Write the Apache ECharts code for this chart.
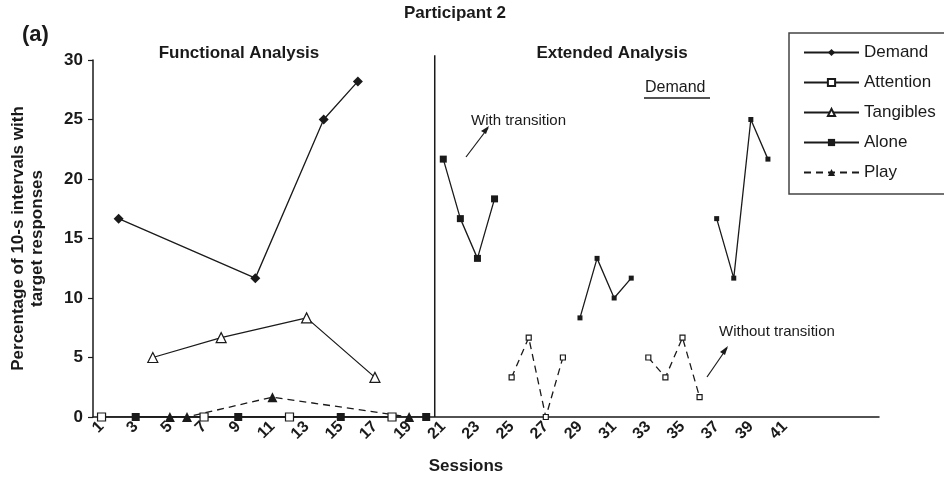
<!DOCTYPE html>
<html lang="en">
<head>
<meta charset="UTF-8">
<title>Participant 2</title>
<script src="https://cdn.jsdelivr.net/npm/echarts@6/dist/echarts.min.js"></script>
<style>
    html, body { margin: 0; padding: 0; background: #fff; }
    #graph { width: 944px; height: 480px; }
</style>
</head>
<body>
<div id="graph"></div>
<script>
// sessions on the x axis (46 slots, labels on odd ones up to 41)
var sessions = [1,2,3,4,5,6,7,8,9,10,11,12,13,14,15,16,17,18,19,20,21,22,23,24,25,26,27,28,29,30,31,32,33,34,35,36,37,38,39,40,41,42,43,44,45,46];
var sessionLabels = ['1','','3','','5','','7','','9','','11','','13','','15','','17','','19','','21','','23','','25','','27','','29','','31','','33','','35','','37','','39','','41','','','','',''];
var yTicks = [0, 5, 10, 15, 20, 25, 30];

// functional analysis
var demandSessions = [2, 10, 14, 16];
var demandValues = [16.67, 11.67, 25, 28.2];
var attentionSessions = [1, 7, 12, 18];
var attentionValues = [0, 0, 0, 0];
var tangiblesSessions = [4, 8, 13, 17];
var tangiblesValues = [5, 6.67, 8.33, 3.33];
var aloneSessions = [3, 9, 15, 20];
var aloneValues = [0, 0, 0, 0];
var playSessions = [5, 6, 11, 19];
var playValues = [0, 0, 1.67, 0];

// extended analysis (demand)
var withSessions = [21, 22, 23, 24, 29, 30, 31, 32, 37, 38, 39, 40];
var withValues = [21.67, 16.67, 13.33, 18.33, 8.33, 13.33, 10, 11.67, 16.67, 11.67, 25, 21.67];
var withoutSessions = [25, 26, 27, 28, 33, 34, 35, 36];
var withoutValues = [3.33, 6.67, 0, 5, 5, 3.33, 6.67, 1.67];

var phaseChange = 20; // boundary after session 20

function place(s, v) {
    var out = [];
    for (var i = 0; i < sessions.length; i++) out.push(null);
    for (var j = 0; j < s.length; j++) out[sessions.indexOf(s[j])] = v[j];
    return out;
}

var font = 'Liberation Sans, Arial, sans-serif';
var ink = '#1a1a1a';
var myChart = echarts.init(document.getElementById('graph'));

var open = { color: '#fff', borderColor: ink, borderWidth: 1.2 };
var solid = { color: ink };

option = {
    animation: false,
    backgroundColor: '#fff',
    textStyle: { fontFamily: font, color: ink },
    grid: { left: 93, right: 65, top: 60, bottom: 63 },
    legend: {
        orient: 'vertical',
        left: 789,
        top: 33,
        padding: [11, 80, 13, 14],
        borderColor: '#444',
        borderWidth: 1.5,
        itemWidth: 55,
        itemHeight: 9,
        itemGap: 13,
        textStyle: { fontFamily: font, fontSize: 17, color: ink },
        data: ['Demand', 'Attention', 'Tangibles', 'Alone', 'Play']
    },
    xAxis: [{
        type: 'category',
        data: sessions.map(String),
        boundaryGap: true,
        axisLine: { lineStyle: { color: ink, width: 1.5 } },
        axisTick: { interval: 0, length: 5, lineStyle: { color: ink, width: 1.2 } },
        axisLabel: {
            interval: 0, rotate: 45, margin: 7,
            fontFamily: font, fontSize: 16, fontWeight: 'bold', color: ink,
            formatter: function (v, i) { return sessionLabels[i]; }
        },
        splitLine: { show: false }
    }, {
        type: 'value', min: 0, max: sessions.length, show: false
    }],
    yAxis: {
        type: 'value',
        min: yTicks[0], max: yTicks[yTicks.length - 1], interval: 5,
        name: 'Percentage of 10-s intervals with\ntarget responses',
        nameLocation: 'middle',
        nameGap: 46,
        nameTextStyle: { fontFamily: font, fontSize: 17, fontWeight: 'bold', color: ink, lineHeight: 19 },
        axisLine: { show: true, lineStyle: { color: ink, width: 1.5 } },
        axisTick: { show: true, length: 5, lineStyle: { color: ink, width: 1.2 } },
        axisLabel: { margin: 10, fontFamily: font, fontSize: 17, fontWeight: 'bold', color: ink },
        splitLine: { show: false }
    },
    series: [
        {
            name: 'Demand', type: 'line', connectNulls: true,
            data: place(demandSessions, demandValues),
            symbol: 'diamond', symbolSize: 10, itemStyle: solid,
            lineStyle: { color: ink, width: 1.3 }
        },
        {
            name: 'Attention', type: 'line', connectNulls: true,
            data: place(attentionSessions, attentionValues),
            symbol: 'rect', symbolSize: 8, itemStyle: open,
            lineStyle: { color: ink, width: 1.3 }
        },
        {
            name: 'Tangibles', type: 'line', connectNulls: true,
            data: place(tangiblesSessions, tangiblesValues),
            symbol: 'triangle', symbolSize: 10, itemStyle: open,
            lineStyle: { color: ink, width: 1.3 }
        },
        {
            name: 'Alone', type: 'line', connectNulls: true,
            data: place(aloneSessions, aloneValues),
            symbol: 'rect', symbolSize: 8, itemStyle: solid,
            lineStyle: { color: ink, width: 1.3 }
        },
        {
            name: 'Play', type: 'line', connectNulls: true,
            data: place(playSessions, playValues),
            symbol: 'triangle', symbolSize: 10, itemStyle: solid,
            lineStyle: { color: ink, width: 1.3, type: [7, 5] }
        },
        {
            name: 'With transition', type: 'line', connectNulls: false,
            data: place(withSessions, withValues),
            symbol: 'rect',
            symbolSize: function (v, p) { return p.dataIndex < 24 ? 7 : 5; },
            itemStyle: solid,
            lineStyle: { color: ink, width: 1.3 }
        },
        {
            name: 'Without transition', type: 'line', connectNulls: false,
            data: place(withoutSessions, withoutValues),
            symbol: 'rect', symbolSize: 5, itemStyle: open,
            lineStyle: { color: ink, width: 1.3, type: [7, 5] }
        },
        {
            name: 'phase', type: 'line', xAxisIndex: 1, clip: false,
            data: [[phaseChange, 0], [phaseChange, 30.4]],
            symbol: 'none', silent: true,
            lineStyle: { color: ink, width: 1.5 }
        }
    ],
    graphic: [
        { type: 'text', style: { text: 'Participant 2', x: 455, y: 13, textAlign: 'center', textVerticalAlign: 'middle', font: 'bold 17px ' + font, fill: ink } },
        { type: 'text', style: { text: '(a)', x: 22, y: 35, textAlign: 'left', textVerticalAlign: 'middle', font: 'bold 22px ' + font, fill: ink } },
        { type: 'text', style: { text: 'Functional Analysis', x: 239, y: 53, textAlign: 'center', textVerticalAlign: 'middle', font: 'bold 17px ' + font, fill: ink } },
        { type: 'text', style: { text: 'Extended Analysis', x: 612, y: 53, textAlign: 'center', textVerticalAlign: 'middle', font: 'bold 17px ' + font, fill: ink } },
        { type: 'text', style: { text: 'Demand', x: 645, y: 88, textAlign: 'left', textVerticalAlign: 'middle', font: '16px ' + font, fill: ink } },
        { type: 'line', shape: { x1: 644, y1: 98, x2: 710, y2: 98 }, style: { stroke: ink, lineWidth: 1.5 } },
        { type: 'text', style: { text: 'With transition', x: 471, y: 121, textAlign: 'left', textVerticalAlign: 'middle', font: '15px ' + font, fill: ink } },
        { type: 'line', shape: { x1: 466, y1: 157, x2: 488, y2: 128 }, style: { stroke: ink, lineWidth: 1.2 } },
        { type: 'polygon', shape: { points: [[489, 126], [481, 131], [486, 134]] }, style: { fill: ink } },
        { type: 'text', style: { text: 'Without transition', x: 719, y: 332, textAlign: 'left', textVerticalAlign: 'middle', font: '15px ' + font, fill: ink } },
        { type: 'line', shape: { x1: 707, y1: 377, x2: 727, y2: 348 }, style: { stroke: ink, lineWidth: 1.2 } },
        { type: 'polygon', shape: { points: [[728, 346], [720, 352], [725, 355]] }, style: { fill: ink } },
        { type: 'text', style: { text: 'Sessions', x: 466, y: 466, textAlign: 'center', textVerticalAlign: 'middle', font: 'bold 17px ' + font, fill: ink } }
    ]
};

myChart.setOption(option);
</script>
</body>
</html>
